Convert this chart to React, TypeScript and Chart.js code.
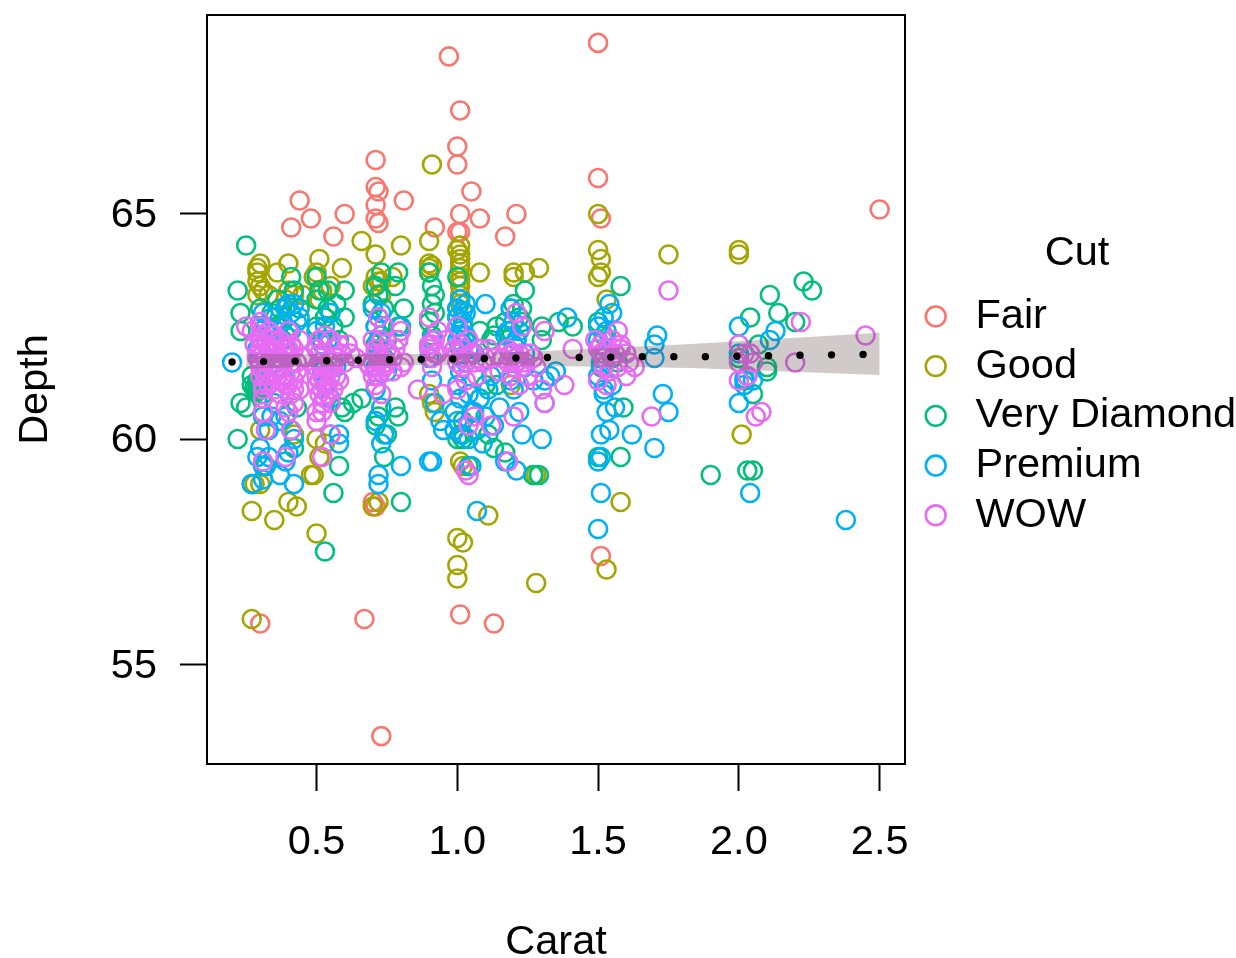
import React, { useEffect, useRef } from "react";
import { Chart, registerables } from "chart.js";

Chart.register(...registerables);

const FONT = "'Liberation Sans', Arial, sans-serif";
const FS = 41.5;
const seriesNames = ["Fair", "Good", "Very Diamond", "Premium", "WOW"];
const seriesColors = ["#F8766D", "#A3A500", "#00BF7D", "#00B0F6", "#E76BF3"];

const fair = [[.97,68.5],[1.5,68.8],[1.01,67.3],[1.0,66.5],[1.0,66.1],[.71,66.2],[1.5,65.8],[.71,65.6],[.72,65.5],[.71,65.2],[.71,64.9],[.72,64.8],[.81,65.3],[1.05,65.5],[1.01,65],[1.0,64.6],[1.01,64.6],[1.08,64.9],[.92,64.7],[1.21,65],[1.17,64.5],[1.51,64.9],[.44,65.3],[.48,64.9],[.41,64.7],[.6,65],[.56,64.5],[2.5,65.1],[.3,55.9],[.67,56],[1.01,56.1],[1.13,55.9],[.73,53.4],[.7,58.6],[.71,58.5],[1.51,57.4]];

const good = [[.91,66.1],[1.5,65],[1.75,64.1],[2.0,64.2],[2.0,64.1],[.66,64.4],[.71,64.1],[.8,64.3],[.9,64.4],[.9,63.9],[.9,63.8],[.9,63.7],[.91,63.85],[1.01,64.3],[1.0,64.2],[1.01,64.1],[1.01,64],[1.01,63.9],[1.01,63.8],[1.01,63.6],[1.01,63.5],[1.01,63.4],[1.01,63.2],[1.01,63],[1.08,63.7],[1.2,63.7],[1.2,63.6],[1.24,63.7],[1.29,63.8],[1.5,64.2],[1.51,64],[1.5,63.6],[1.51,63.7],[1.53,63.1],[.3,63.9],[.29,63.8],[.29,63.7],[.29,63.5],[.3,63.4],[.31,63.3],[.29,63.2],[.4,63.9],[.36,63.7],[.4,63.3],[.42,63.2],[.39,63.1],[.33,63.2],[.51,64],[.5,63.7],[.49,63.6],[.59,63.8],[.52,63.3],[.51,63.1],[.55,63.4],[.45,63.2],[.71,63.6],[.72,63.5],[.73,63.5],[.7,63.4],[.77,63.6],[.73,63.2],[.7,63],[.9,61],[.91,60.8],[.48,59.2],[.49,59.2],[.5,60],[.53,59.9],[.42,60.1],[.27,58.4],[.35,58.2],[.4,58.6],[.43,58.5],[.5,57.9],[.28,59],[.3,59],[.3,60.2],[.7,58.5],[.72,58.6],[1.0,57.8],[1.02,57.7],[1.0,57.2],[1.0,56.9],[1.28,56.8],[1.53,57.1],[1.58,58.6],[1.11,58.3],[1.28,59.2],[1.27,59.2],[1.01,59.5],[1.02,59.4],[.27,56],[2.01,60.1],[.51,59.6],[.92,60.6],[1.19,61.2]];

const veryDiamond = [[.25,64.3],[.22,63.3],[.23,62.8],[.23,62.4],[.23,60.8],[.25,60.7],[.22,60],[.27,61.2],[.28,61.1],[.29,61.2],[.29,61.3],[.3,61.15],[.27,61.4],[.31,61],[.3,62.9],[.3,62.5],[.3,62.2],[.36,63.1],[.37,62.9],[.38,62.6],[.34,62.8],[.39,62.3],[.41,63.6],[.42,63.3],[.44,62.9],[.36,61.6],[.43,60.7],[.42,59.8],[.32,59.4],[.27,59],[.5,63.6],[.51,63.3],[.5,63.1],[.54,63.3],[.57,63],[.53,62.7],[.5,62.5],[.52,62.2],[.58,62.2],[.6,63.3],[.6,62.7],[.53,57.5],[.56,58.8],[.58,59.4],[.55,60.1],[.6,60.6],[.63,60.8],[.66,60.9],[.59,60.7],[.73,63.7],[.71,63.4],[.72,63.2],[.7,63],[.74,62.9],[.72,62.7],[.71,62.5],[.73,62.3],[.71,62.1],[.75,62.2],[.79,63.7],[.78,63.4],[.81,62.9],[.79,62.5],[.8,58.6],[.72,60.5],[.71,60.3],[.75,60.1],[.74,59.6],[.79,60.5],[.78,60.7],[.9,63.7],[.91,63.4],[.92,63.2],[.91,63],[.9,62.6],[.91,62.3],[1.0,63.6],[1.01,63.1],[1.0,62.9],[1.0,62.7],[1.02,62.5],[1.01,62],[1.08,62.4],[1.12,62.2],[1.14,62.5],[1.13,62.3],[1.17,62.6],[1.19,62.9],[1.2,63],[1.22,62.7],[1.24,63.3],[1.23,62.9],[1.23,62.6],[1.19,62.4],[1.21,62.2],[1.02,60.4],[1.0,60],[1.01,60.1],[1.02,60],[1.11,60.1],[1.13,59.8],[1.17,59.7],[1.08,60.9],[1.14,61.2],[1.04,59.4],[1.27,59.2],[1.29,59.2],[1.36,62.6],[1.41,62.5],[1.3,62.5],[1.5,62.6],[1.52,62.3],[1.58,63.4],[1.51,61.6],[1.55,61.8],[1.57,61.7],[1.59,60.7],[1.58,59.6],[1.5,59.6],[1.9,59.2],[2.03,59.3],[2.05,59.3],[2.04,62.7],[2.11,63.2],[2.14,62.8],[2.23,63.5],[2.26,63.3],[2.2,62.6],[2.0,61.8],[2.02,61.3],[2.05,61],[2.1,61.5],[2.07,62.1],[2.1,61.6],[1.52,61.9],[1.3,62.2],[.28,61.15],[.29,61.1],[.3,61.25],[.31,61.2],[.29,61.05],[.3,61.1],[.54,62.9],[.56,62.5],[.72,62],[.74,61.8],[.53,61.6],[1.1,61.2],[1.05,60.6],[1.07,60.2],[.38,62.2],[.36,62.5],[.92,62.8]];

const premium = [[2.38,58.2],[2.04,58.8],[2.0,62.5],[2.13,62.4],[2.11,62.2],[1.7,62.1],[1.7,61.8],[1.71,62.3],[1.73,61],[1.75,60.6],[1.7,59.8],[1.62,60.1],[1.5,58],[1.51,58.8],[1.5,59.5],[1.51,59.6],[1.53,60.6],[1.56,60.7],[1.51,60.1],[1.54,60.2],[1.52,61.1],[1.55,61.2],[1.5,61.4],[1.51,61.7],[1.5,62.2],[1.52,62.7],[1.54,63],[1.55,62.8],[1.5,62.5],[1.53,62.4],[1.52,61],[2.0,60.8],[2.02,61.2],[2.03,61.4],[2.02,61.35],[2.05,61.3],[2.0,61.9],[1.35,61.5],[1.33,61.4],[1.31,61.3],[1.39,62.7],[1.3,60],[1.31,60.8],[1.27,61.3],[1.23,60.1],[1.22,60.6],[1.2,61.1],[1.19,62.9],[1.2,62.6],[1.18,62.4],[1.21,62.2],[1.24,61.6],[1.1,63],[1.03,62.8],[1.01,63.1],[1.0,62.9],[1.0,62.7],[1.0,62.5],[1.01,62.3],[1.02,62.1],[1.04,62],[1.01,61.5],[1.06,61.9],[1.01,60.9],[.99,60.6],[1.0,60.4],[1.02,60.1],[1.04,60],[1.09,59.9],[1.1,60.5],[1.13,60.3],[1.15,60.7],[1.17,59.5],[1.21,59.3],[1.07,58.4],[1.05,59.4],[1.08,60.9],[1.12,61.4],[1.03,61.7],[.9,61.8],[.91,61.3],[.92,60.8],[.94,60.4],[.95,60.2],[.99,60.2],[.9,59.5],[.91,59.5],[.91,62.2],[.8,59.4],[.8,62.5],[.79,62.2],[.72,59.2],[.72,59],[.73,59.9],[.74,60.1],[.71,60.4],[.73,60.7],[.71,61.1],[.73,62.8],[.71,62.5],[.7,62.9],[.75,61.5],[.58,60.1],[.58,59.9],[.55,60.9],[.53,61.2],[.52,62.1],[.53,62.5],[.55,62.8],[.5,62.4],[.5,62],[.52,61.5],[.42,63],[.44,62.7],[.41,62.4],[.39,62],[.37,61.8],[.38,61.4],[.41,60.2],[.42,60],[.4,59.7],[.39,59.5],[.42,59],[.37,59.2],[.34,60.5],[.33,60.2],[.31,60.5],[.33,59.6],[.31,59.1],[.31,59.4],[.27,59],[.29,59.6],[.3,59.8],[.31,62.8],[.32,62.5],[.34,62.7],[.33,62.3],[.29,62],[.2,61.7],[.34,61.9],[1.03,63],[1.02,62.6],[1.01,62.4],[1.02,62.85],[1.17,62.3],[1.22,62.4],[1.2,62.1],[.4,63],[.41,62.8],[.43,62.6],[.39,62.9],[.36,62.4],[.41,61.7],[.33,61.3],[.35,60.8],[.37,60.4],[.39,60.5],[.57,61.6],[.54,62.2],[.72,61.8],[.71,61.6],[1.0,62.2],[1.03,62.3],[1.04,61],[1.06,60.6],[1.0,61.2],[1.11,61.1],[1.19,61.3],[1.24,61.9],[.72,62.2]];

const wow = [[.25,62.5],[.27,62.4],[.3,62.6],[.31,62.3],[.3,62.2],[.3,62],[.31,61.9],[.29,61.8],[.3,61.6],[.3,61.4],[.31,61.2],[.31,61.1],[.31,60.9],[.3,61.7],[.32,62.1],[.33,61.5],[.33,62.4],[.34,62.2],[.35,61.9],[.34,61.6],[.36,61.4],[.36,62],[.38,61.7],[.38,61.3],[.39,61.9],[.4,62.4],[.41,62.1],[.4,61.8],[.41,61.5],[.4,61.2],[.41,61],[.42,60.8],[.4,60.6],[.31,60.6],[.39,60.7],[.32,60.2],[.41,60.2],[.31,59.5],[.39,59.6],[.44,61.1],[.43,61.7],[.44,62.2],[.46,61.8],[.5,62],[.51,61.7],[.52,61.4],[.5,61.2],[.51,61],[.52,60.8],[.5,60.6],[.5,60.4],[.55,60.1],[.52,59.6],[.53,61.3],[.54,61.5],[.55,61.7],[.56,62],[.55,62.2],[.53,62.3],[.51,62.2],[.56,61.1],[.57,61.4],[.59,61.9],[.6,61.7],[.61,62.1],[.62,61.9],[.64,61.8],[.68,61.7],[.69,61.6],[.7,62.2],[.71,61.9],[.72,61.7],[.7,61.4],[.71,61.2],[.73,61],[.74,62.5],[.72,62.7],[.73,61.5],[.75,62],[.77,61.8],[.77,61.5],[.79,62.2],[.8,62.4],[.8,61.6],[.81,61.7],[.86,61.1],[.9,62.7],[.9,62.1],[.92,62.2],[.92,61.9],[.93,62.4],[.96,62.2],[.91,61.6],[.91,61.8],[.95,61],[1.0,62.5],[1.01,62.1],[1.0,61.9],[1.02,61.6],[1.03,61.3],[1.0,61.1],[1.05,61.9],[1.06,60.5],[1.03,59.3],[1.04,59.2],[1.04,60.3],[1.07,61.4],[1.09,61.7],[1.11,62],[1.13,61.8],[1.15,61.5],[1.12,60.3],[1.18,59.5],[1.16,61.8],[1.2,61.9],[1.21,61.7],[1.21,62.8],[1.23,62.5],[1.19,61.4],[1.26,61.9],[1.25,61.4],[1.22,61.2],[1.2,60.5],[1.31,62.4],[1.28,61.6],[1.3,61.1],[1.31,60.8],[1.41,62],[1.38,61.2],[1.49,62.2],[1.5,62],[1.51,61.9],[1.52,61.6],[1.53,61.2],[1.5,61.3],[1.54,61.5],[1.55,62.2],[1.57,62.4],[1.56,61.9],[1.58,62.1],[1.6,61.9],[1.61,61.7],[1.63,61.6],[1.6,61.4],[1.57,61.6],[1.58,62],[1.75,63.3],[1.69,60.5],[2.0,61.7],[2.02,61.9],[2.0,62.1],[2.03,61.4],[2.05,61.7],[2.04,61.9],[2.06,60.5],[2.08,60.6],[2.2,61.7],[2.22,62.6],[2.45,62.3],[2.0,61.3],
  [.28,62.1],[.29,61.9],[.3,62.5],[.31,61.5],[.32,61.8],[.33,62],[.34,61.3],[.35,62.3],[.36,61.8],[.37,62.2],[.37,61.6],[.38,62],[.39,61.4],[.4,62],[.41,61.7],[.42,61.3],[.42,62],[.43,61.5],[.32,61.4],[.33,61.2],[.35,61.1],[.37,61],[.39,61.2],[.42,61.1],[.51,61.9],[.52,61.6],[.53,61.9],[.54,61.2],[.55,61.4],[.56,61.6],[.57,61.8],[.58,62.1],[.52,61.1],[.53,60.9],[.54,61],[.55,60.8],[.5,61.6],[.5,61.4],[.51,61.3],[.52,60.6],[.58,61.3],[.71,62],[.72,61.4],[.73,61.8],[.74,61.6],[.75,61.7],[.76,61.9],[.7,61.7],[.71,61.5],[.73,62.2],[.78,62],[.9,62],[.91,62.1],[.93,61.9],[.99,62],[1.0,61.7],[1.01,61.8],[1.02,62],[1.03,61.8],[1.04,62.2],[1.06,61.7],[1.08,62],[1.1,61.8],[1.18,61.7],[1.19,61.9],[1.2,61.6],[1.21,61.8],[1.22,61.9],[1.23,61.6],[1.24,61.7],[1.18,62],[1.27,61.8],[1.51,62.1],[1.52,61.8],[1.53,62]];

const smoothCarat = [.2,.312,.424,.536,.648,.76,.872,.984,1.096,1.208,1.32,1.433,1.545,1.657,1.769,1.881,1.993,2.105,2.217,2.329,2.441];
const smoothDepth = [61.71,61.72,61.73,61.74,61.75,61.76,61.77,61.78,61.79,61.8,61.81,61.81,61.82,61.83,61.83,61.83,61.84,61.85,61.86,61.87,61.88];
const bandCarat = [.25,.62,.98,1.33,1.83,2.5];
const bandLow = [61.56,61.62,61.65,61.62,61.58,61.42];
const bandHigh = [61.89,61.89,61.89,61.96,62.11,62.36];

const toPoints = (xs: number[], ys: number[]) => xs.map((x, i) => ({ x, y: ys[i] }));

const boxPlugin = {
  id: "box",
  afterLayout(chart: any) {
    const legend = chart.legend;
    legend.left = 908.5;
    legend.right = 1236;
    legend.width = 337;
    legend.columnSizes[0].width = 337;
    const items = chart.scales.y.getLabelItems(chart.chartArea);
    items.forEach((item: any) => { item.options.translation[1] += 2; });
  },
  afterDraw(chart: any) {
    const { ctx, chartArea: a } = chart;
    ctx.save();
    ctx.strokeStyle = "#000";
    ctx.lineWidth = 2;
    ctx.strokeRect(a.left, a.top, a.right - a.left, a.bottom - a.top);
    ctx.restore();
  },
};

export default function App() {
  const ref = useRef<HTMLCanvasElement>(null);
  useEffect(() => {
    const all = [fair, good, veryDiamond, premium, wow];
    const chart = new Chart(ref.current!, {
      type: "scatter",
      plugins: [boxPlugin],
      data: {
        datasets: [
          ...all.map((pts, i) => ({
            label: seriesNames[i],
            data: pts.map(([x, y]) => ({ x, y })),
            borderColor: seriesColors[i],
            backgroundColor: "rgba(0,0,0,0)",
            pointStyle: "circle",
            pointRadius: 9,
            pointBorderWidth: 2.6,
            order: 6 - i,
          })),
          {
            type: "line",
            label: "bandLow",
            data: toPoints(bandCarat, bandLow),
            borderWidth: 0,
            pointRadius: 0,
            fill: false,
            order: 1,
          },
          {
            type: "line",
            label: "bandHigh",
            data: toPoints(bandCarat, bandHigh),
            borderWidth: 0,
            pointRadius: 0,
            fill: "-1",
            backgroundColor: "rgba(100,80,80,0.3)",
            order: 1,
          },
          {
            label: "smooth",
            data: toPoints(smoothCarat, smoothDepth),
            backgroundColor: "#000",
            borderColor: "#000",
            pointRadius: 3.7,
            pointBorderWidth: 0,
            order: 0,
          },
        ] as any,
      },
      options: {
        animation: false,
        responsive: false,
        devicePixelRatio: 1,
        layout: { autoPadding: false, padding: { top: 15, left: 0, right: 29.33, bottom: 0 } },
        plugins: {
          tooltip: { enabled: false },
          legend: {
            position: "right",
            align: "start",
            title: {
              display: true,
              text: "Cut",
              color: "#000",
              font: { family: FONT, size: FS, lineHeight: 1 },
              padding: { top: 218, bottom: 13 },
            },
            labels: {
              usePointStyle: true,
              boxWidth: 38,
              boxHeight: 14,
              padding: 8.2,
              color: "#000",
              font: { family: FONT, size: FS },
              generateLabels: () =>
                seriesNames.map((n, i) => ({
                  text: n,
                  fillStyle: "rgba(0,0,0,0)",
                  strokeStyle: seriesColors[i],
                  lineWidth: 2.6,
                  pointStyle: "circle",
                  datasetIndex: i,
                  fontColor: "#000",
                })),
            },
          },
        },
        scales: {
          x: {
            type: "linear",
            min: 0.111,
            max: 2.59,
            afterFit: (s: any) => { s.height = 194; s.paddingLeft = 0; s.paddingRight = 0; },
            afterBuildTicks: (s: any) => { s.ticks = [0.5, 1, 1.5, 2, 2.5].map((value) => ({ value })); },
            border: { color: "#000", width: 2 },
            grid: { display: true, drawOnChartArea: false, drawTicks: true, tickLength: 27, tickColor: "#000", tickWidth: 2 },
            ticks: { color: "#000", font: { family: FONT, size: FS }, padding: 27, maxRotation: 0, callback: (v: any) => Number(v).toFixed(1) },
            title: { display: true, text: "Carat", color: "#000", font: { family: FONT, size: FS, lineHeight: 1 }, padding: { top: 0, bottom: -5 } },
          },
          y: {
            type: "linear",
            min: 52.78,
            max: 69.42,
            afterFit: (s: any) => { s.width = 207; s.paddingTop = 0; s.paddingBottom = 0; },
            afterBuildTicks: (s: any) => { s.ticks = [55, 60, 65].map((value) => ({ value })); },
            border: { color: "#000", width: 2 },
            grid: { display: true, drawOnChartArea: false, drawTicks: true, tickLength: 27, tickColor: "#000", tickWidth: 2 },
            ticks: { color: "#000", font: { family: FONT, size: FS }, padding: 23 },
            title: { display: true, text: "Depth", color: "#000", font: { family: FONT, size: FS }, padding: { top: 11, bottom: 0 } },
          },
        },
      },
    } as any);
    return () => chart.destroy();
  }, []);
  return (
    <div style={{ position: "fixed", left: 0, top: 0, width: 1236, height: 958, background: "#fff" }}>
      <canvas ref={ref} width={1236} height={958} style={{ display: "block" }} />
    </div>
  );
}
